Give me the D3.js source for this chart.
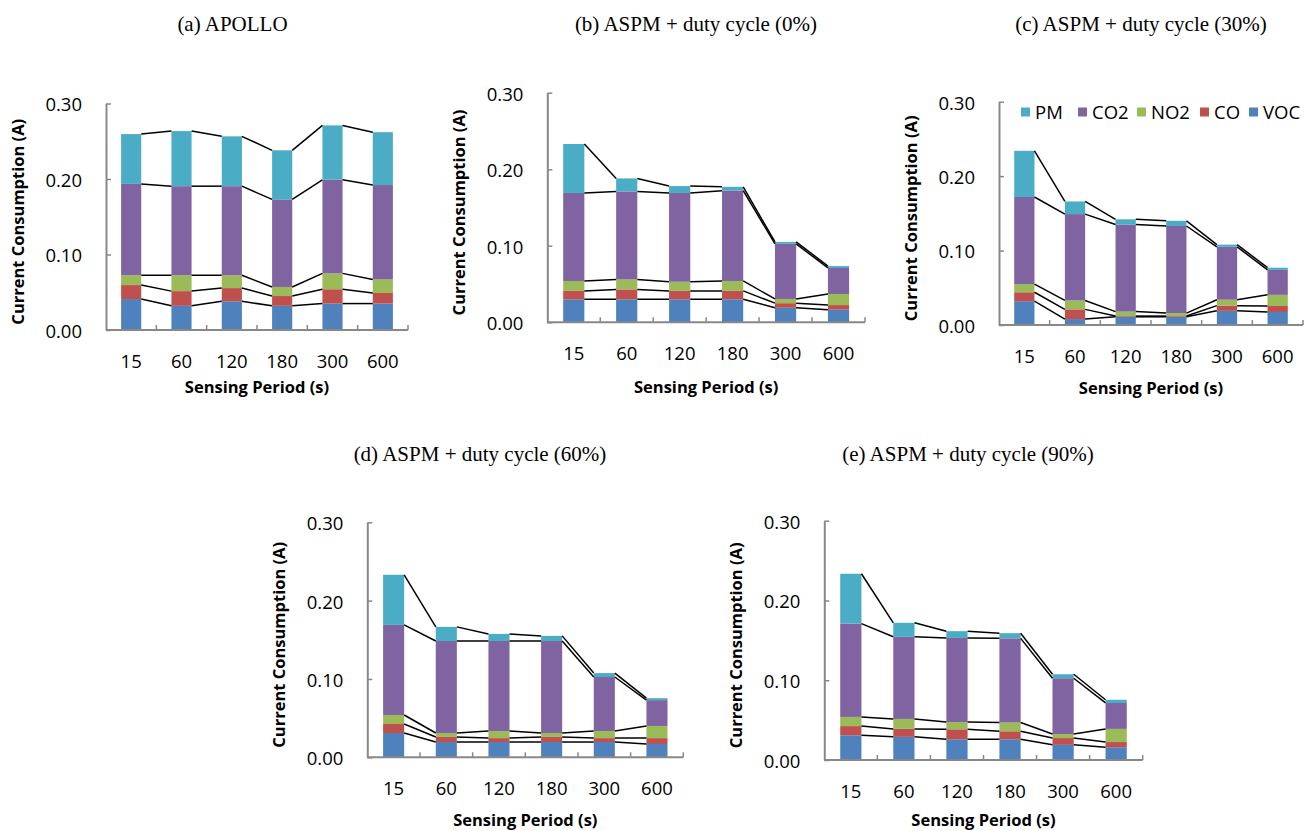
<!DOCTYPE html>
<html>
<head>
<meta charset="utf-8">
<script src="https://cdn.jsdelivr.net/npm/d3@7"></script>
<style>
  html, body { margin: 0; padding: 0; background: #fff; }
  svg { display: block; }
</style>
</head>
<body>
<svg id="chart" width="1304" height="831"></svg>
<script>
// ---------------- DATA ----------------
const categories = ["15", "60", "120", "180", "300", "600"];
const seriesNames = ["VOC", "CO", "NO2", "CO2", "PM"];       // stacking order, bottom -> top
const legendOrder = ["PM", "CO2", "NO2", "CO", "VOC"];
const yTicks = [0, 0.10, 0.20, 0.30];

// (a) APOLLO
const apolloVOC = [0.041, 0.032, 0.038, 0.032, 0.035, 0.035];
const apolloCO  = [0.0185, 0.0195, 0.0175, 0.013, 0.019, 0.014];
const apolloNO2 = [0.013, 0.021, 0.017, 0.012, 0.021, 0.018];
const apolloCO2 = [0.121, 0.118, 0.118, 0.116, 0.124, 0.125];
const apolloPM  = [0.066, 0.073, 0.066, 0.065, 0.072, 0.070];

// (b) ASPM + duty cycle (0%)
const duty0VOC = [0.030, 0.030, 0.030, 0.030, 0.019, 0.0165];
const duty0CO  = [0.011, 0.013, 0.011, 0.011, 0.006, 0.006];
const duty0NO2 = [0.013, 0.013, 0.012, 0.013, 0.0055, 0.0145];
const duty0CO2 = [0.115, 0.115, 0.116, 0.118, 0.072, 0.034];
const duty0PM  = [0.064, 0.017, 0.009, 0.005, 0.0025, 0.0025];

// (c) ASPM + duty cycle (30%)
const duty30VOC = [0.032, 0.008, 0.011, 0.011, 0.019, 0.0175];
const duty30CO  = [0.012, 0.013, 0.001, 0.001, 0.007, 0.008];
const duty30NO2 = [0.011, 0.012, 0.006, 0.004, 0.008, 0.015];
const duty30CO2 = [0.117, 0.116, 0.117, 0.117, 0.071, 0.0335];
const duty30PM  = [0.062, 0.017, 0.007, 0.007, 0.003, 0.003];

// (d) ASPM + duty cycle (60%)
const duty60VOC = [0.031, 0.0195, 0.0195, 0.0195, 0.0195, 0.017];
const duty60CO  = [0.0115, 0.0065, 0.005, 0.0065, 0.005, 0.0075];
const duty60NO2 = [0.0115, 0.005, 0.009, 0.005, 0.009, 0.0155];
const duty60CO2 = [0.115, 0.1175, 0.115, 0.1175, 0.069, 0.033];
const duty60PM  = [0.064, 0.018, 0.009, 0.0065, 0.005, 0.0025];

// (e) ASPM + duty cycle (90%)
const duty90VOC = [0.031, 0.029, 0.026, 0.026, 0.019, 0.016];
const duty90CO  = [0.0115, 0.010, 0.0125, 0.010, 0.0085, 0.0065];
const duty90NO2 = [0.0115, 0.0125, 0.009, 0.011, 0.005, 0.0165];
const duty90CO2 = [0.117, 0.103, 0.1055, 0.1055, 0.070, 0.0325];
const duty90PM  = [0.0625, 0.0175, 0.0085, 0.0065, 0.005, 0.004];

// ---------------- STYLE / LAYOUT ----------------
const colors = { PM: "#4BACC6", CO2: "#8064A2", NO2: "#9BBB59", CO: "#C0504D", VOC: "#4F81BD" };
const axisColor = "#888888";
const tickFont = "'Open Sans', 'DejaVu Sans', sans-serif";
const titleFont = "'Liberation Serif', 'Times New Roman', serif";

const panels = [
  { title: "(a) APOLLO", series: [apolloVOC, apolloCO, apolloNO2, apolloCO2, apolloPM],
    left: 106, right: 408, bottom: 330, top: 103.5, titleX: 232.5, titleY: 31, xTitleY: 393, legend: false },
  { title: "(b) ASPM + duty cycle (0%)", series: [duty0VOC, duty0CO, duty0NO2, duty0CO2, duty0PM],
    left: 547.3, right: 865, bottom: 322.3, top: 92.7, titleX: 696, titleY: 31, xTitleY: 393, legend: false },
  { title: "(c) ASPM + duty cycle (30%)", series: [duty30VOC, duty30CO, duty30NO2, duty30CO2, duty30PM],
    left: 999, right: 1303, bottom: 325, top: 101.7, titleX: 1141, titleY: 31, xTitleY: 394, legend: true },
  { title: "(d) ASPM + duty cycle (60%)", series: [duty60VOC, duty60CO, duty60NO2, duty60CO2, duty60PM],
    left: 367.3, right: 683.3, bottom: 757.3, top: 522.3, titleX: 480, titleY: 461, xTitleY: 826, legend: false },
  { title: "(e) ASPM + duty cycle (90%)", series: [duty90VOC, duty90CO, duty90NO2, duty90CO2, duty90PM],
    left: 824.3, right: 1142.7, bottom: 760, top: 520.7, titleX: 968, titleY: 461, xTitleY: 826, legend: false }
];

const legendX = [1021, 1078, 1137, 1200, 1249];
const legendY = 112;

// ---------------- DRAW ----------------
const svg = d3.select("#chart");

panels.forEach(p => {
  const g = svg.append("g");

  const x = d3.scaleBand().domain(categories).range([p.left, p.right])
    .paddingInner(0.6).paddingOuter(0.3);
  const y = d3.scaleLinear().domain([0, 0.30]).range([p.bottom, p.top]);

  // table rows for stacking
  const rows = categories.map((c, i) => {
    const r = { cat: c };
    seriesNames.forEach((s, k) => { r[s] = p.series[k][i]; });
    return r;
  });
  const stacked = d3.stack().keys(seriesNames)(rows);

  // bars
  g.selectAll("g.layer").data(stacked).join("g")
    .attr("class", "layer")
    .attr("fill", d => colors[d.key])
    .selectAll("rect").data(d => d).join("rect")
    .attr("x", d => x(d.data.cat))
    .attr("width", x.bandwidth())
    .attr("y", d => y(d[1]))
    .attr("height", d => y(d[0]) - y(d[1]));

  // series lines
  const bw = x.bandwidth();
  stacked.forEach(layer => {
    for (let i = 0; i < layer.length - 1; i++) {
      g.append("line")
        .attr("x1", x(categories[i]) + bw).attr("y1", y(layer[i][1]))
        .attr("x2", x(categories[i + 1])).attr("y2", y(layer[i + 1][1]))
        .attr("stroke", "#000").attr("stroke-width", 1.5);
    }
  });

  // y axis
  const yAxis = d3.axisLeft(y).tickValues(yTicks).tickFormat(d3.format(".2f"))
    .tickSize(-5).tickSizeOuter(0).tickPadding(24);
  const ya = g.append("g").attr("transform", `translate(${p.left},0)`).call(yAxis);
  ya.select(".domain").attr("stroke", axisColor).attr("stroke-width", 2);
  ya.selectAll(".tick line").attr("stroke", axisColor).attr("stroke-width", 1.5);
  ya.selectAll(".tick text").attr("font-family", tickFont).attr("font-size", 18.5)
    .attr("fill", "#000").attr("dy", "0.40em");

  // x axis
  g.append("line").attr("x1", p.left).attr("x2", p.right)
    .attr("y1", p.bottom).attr("y2", p.bottom)
    .attr("stroke", axisColor).attr("stroke-width", 2);
  const step = x.step();
  categories.forEach(c => {
    const bx = x(c) + bw + step * 0.3;
    g.append("line").attr("x1", bx).attr("x2", bx)
      .attr("y1", p.bottom).attr("y2", p.bottom - 5)
      .attr("stroke", axisColor).attr("stroke-width", 1.5);
  });
  g.selectAll("text.xlab").data(categories).join("text")
    .attr("class", "xlab")
    .attr("x", d => x(d) + bw / 2)
    .attr("y", p.bottom + 37.5)
    .attr("text-anchor", "middle")
    .attr("font-family", tickFont).attr("font-size", 18.5).attr("fill", "#000")
    .text(d => d);

  // axis titles
  const cx = (p.left + p.right) / 2;
  g.append("text")
    .attr("x", cx).attr("y", p.xTitleY)
    .attr("text-anchor", "middle")
    .attr("font-family", tickFont).attr("font-size", 16.5).attr("font-weight", "bold")
    .text("Sensing Period (s)");
  const cy = (p.top + p.bottom) / 2 + 5;
  g.append("text")
    .attr("transform", `translate(${p.left - 82.5},${cy}) rotate(-90)`)
    .attr("text-anchor", "middle")
    .attr("font-family", tickFont).attr("font-size", 16.5).attr("font-weight", "bold")
    .text("Current Consumption (A)");

  // panel title
  svg.append("text")
    .attr("x", p.titleX).attr("y", p.titleY)
    .attr("text-anchor", "middle")
    .attr("font-family", titleFont).attr("font-size", 21).attr("fill", "#000")
    .text(p.title);

  // legend
  if (p.legend) {
    const lg = g.append("g");
    legendOrder.forEach((s, i) => {
      lg.append("rect").attr("x", legendX[i]).attr("y", legendY - 4.5)
        .attr("width", 9).attr("height", 9).attr("fill", colors[s]);
      lg.append("text").attr("x", legendX[i] + 14).attr("y", legendY + 6.5)
        .attr("font-family", tickFont).attr("font-size", 18.5).attr("fill", "#000")
        .text(s);
    });
  }
});
</script>
</body>
</html>
